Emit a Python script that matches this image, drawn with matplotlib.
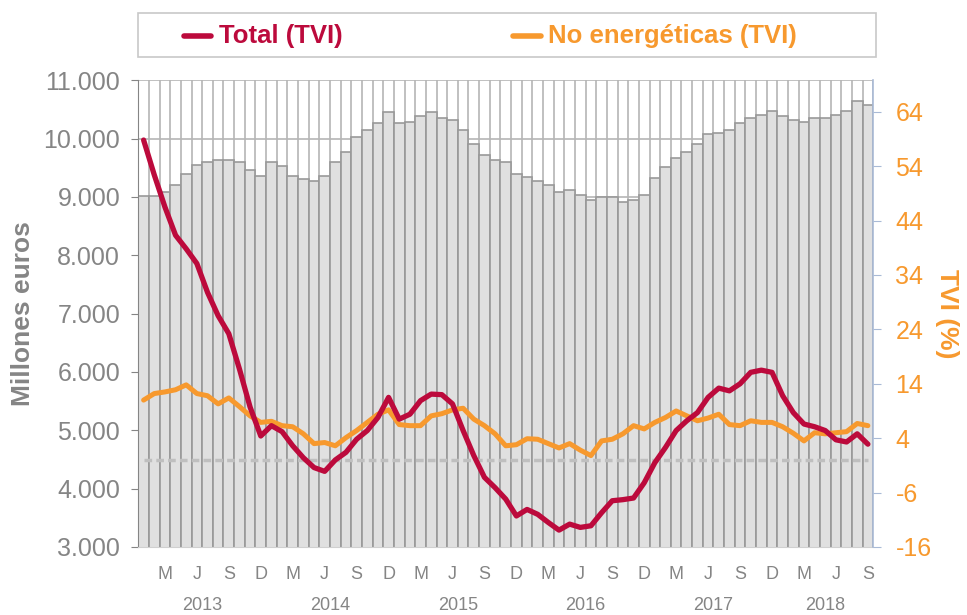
import numpy as np
import matplotlib
matplotlib.use('Agg')
import matplotlib.pyplot as plt
from matplotlib.lines import Line2D
from matplotlib.patches import Rectangle
import matplotlib.transforms as mtransforms

plt.rcParams['font.family'] = ['Liberation Sans', 'DejaVu Sans']

# Monthly data, Jan 2013 - Sep 2018
stock = [9010, 9010, 9080, 9200, 9390, 9555, 9600, 9630, 9630, 9600, 9465, 9360,
         9600, 9530, 9360, 9315, 9270, 9360, 9600, 9767, 10030, 10150, 10270, 10460,
         10270, 10290, 10380, 10460, 10360, 10315, 10145, 9915, 9715, 9630, 9600, 9390,
         9345, 9270, 9200, 9080, 9125, 9035, 8945, 8990, 8990, 8915, 8940, 9035,
         9320, 9510, 9675, 9770, 9910, 10080, 10100, 10150, 10270, 10360, 10410, 10480,
         10390, 10315, 10285, 10360, 10360, 10410, 10480, 10650, 10580]

tvi_total = [58.8, 52.4, 46.5, 41.3, 38.8, 36.1, 30.8, 26.5, 23.2, 16.7, 9.7, 4.4,
             6.3, 5.2, 2.6, 0.4, -1.4, -2.1, 0.0, 1.4, 3.8, 5.4, 7.8, 11.5,
             7.5, 8.4, 10.9, 12.1, 12.0, 10.3, 5.4, 0.8, -3.2, -5.1, -7.2, -10.3,
             -9.1, -10.0, -11.5, -12.9, -11.8, -12.4, -12.1, -9.7, -7.5, -7.3, -7.0, -4.2,
             -0.5, 2.3, 5.4, 7.2, 8.7, 11.5, 13.2, 12.7, 14.0, 16.1, 16.5, 16.1,
             11.8, 8.7, 6.6, 6.1, 5.4, 3.7, 3.3, 4.8, 2.9]

tvi_no_energ = [11.0, 12.2, 12.5, 12.9, 13.8, 12.2, 11.8, 10.3, 11.4, 9.8, 8.1, 6.9,
                7.1, 6.3, 6.1, 4.8, 3.0, 3.2, 2.6, 4.1, 5.4, 6.9, 8.4, 9.2,
                6.5, 6.3, 6.3, 8.1, 8.5, 9.2, 9.5, 7.5, 6.3, 4.8, 2.6, 2.8,
                3.9, 3.8, 3.0, 2.2, 3.0, 1.8, 0.8, 3.5, 3.8, 4.8, 6.3, 5.7,
                6.9, 7.8, 9.0, 8.1, 7.2, 7.7, 8.4, 6.5, 6.3, 7.2, 6.9, 6.9,
                6.1, 4.9, 3.5, 5.0, 4.8, 5.0, 5.2, 6.7, 6.3]

month_letters = ['E', 'F', 'M', 'A', 'M', 'J', 'J', 'A', 'S', 'O', 'N', 'D']
years = ['2013', '2014', '2015', '2016', '2017', '2018']

RED = '#BC0A3C'
ORANGE = '#F7992E'
GREY = '#858585'

n = len(stock)
x = np.arange(n)

fig = plt.figure(figsize=(9.67, 6.15), dpi=100)
ax = fig.add_axes([0.143, 0.1106, 0.760, 0.759])

# Bars (stock, left axis)
ax.bar(x, stock, width=1.0, color='#e0e0e0', edgecolor='#999999',
       linewidth=1.2, zorder=2)
ax.set_xlim(-0.5, n - 0.5)
ax.set_ylim(3000, 11000)
ax.set_yticks(np.arange(3000, 11001, 1000))
ax.set_yticklabels([f'{v:,}'.replace(',', '.') for v in range(3000, 11001, 1000)],
                   fontsize=18, color=GREY)
ax.set_axisbelow(True)
ax.grid(axis='y', color='#b5b5b5', linewidth=1.2)
ax.set_xticks(np.arange(-0.5, n, 1.0), minor=True)
ax.grid(axis='x', which='minor', color='#b5b5b5', linewidth=1.2)

# month letters every quarter
qpos = [i for i in range(n) if i % 12 in (2, 5, 8, 11)]
ax.set_xticks(qpos)
ax.set_xticklabels([month_letters[i % 12] for i in qpos], fontsize=13, color=GREY)
ax.tick_params(axis='x', which='both', length=0, pad=14)
ax.tick_params(axis='y', length=5, color=GREY, pad=8)

for s in ['top', 'right']:
    ax.spines[s].set_visible(False)
ax.spines['left'].set_color(GREY)
ax.spines['bottom'].set_color('#d0d0d0')

# year labels centred under each year's months
trans = mtransforms.blended_transform_factory(ax.transData, ax.transAxes)
for k, yr in enumerate(years):
    idx = [i for i in range(n) if i // 12 == k]
    ax.text(np.mean(idx), -0.125, yr, transform=trans, ha='center', va='center',
            fontsize=13, color=GREY)

ax.set_ylabel('Millones euros', fontsize=19, fontweight='bold', color=GREY, labelpad=6)

# TVI lines (right axis)
ax2 = ax.twinx()
ax2.set_ylim(-16, 69.8)
ax2.hlines(0, x[0], x[-1], colors='#bfbfbf', linestyles=(0, (2.2, 1.2)),
           linewidth=2.5, zorder=1)
ax2.plot(x, tvi_no_energ, color=ORANGE, linewidth=3.6, solid_capstyle='round',
         solid_joinstyle='round', zorder=3)
ax2.plot(x, tvi_total, color=RED, linewidth=3.8, solid_capstyle='round',
         solid_joinstyle='round', zorder=4)
ax2.set_yticks(np.arange(-16, 65, 10))
ax2.set_yticklabels([str(v) for v in range(-16, 65, 10)], fontsize=18, color=ORANGE)
ax2.tick_params(axis='y', length=6, color='#a9bad6', pad=10)
for s in ['top', 'left', 'bottom']:
    ax2.spines[s].set_visible(False)
ax2.spines['right'].set_color('#a9bad6')
ax2.spines['right'].set_linewidth(1.2)
ax2.set_ylabel('TVI (%)', fontsize=19, fontweight='bold', color=ORANGE,
               rotation=-90, labelpad=20)

# Legend box at the top
fig.patches.append(Rectangle((138 / 967, 1 - 57 / 615), (876 - 138) / 967, 44 / 615,
                             transform=fig.transFigure, facecolor='white',
                             edgecolor='#c8c8c8', linewidth=1.2))
ly = 1 - 36 / 615
fig.lines.append(Line2D([184 / 967, 211 / 967], [ly, ly], transform=fig.transFigure,
                        color=RED, linewidth=4, solid_capstyle='round'))
fig.text(219 / 967, ly, 'Total (TVI)', color=RED, fontsize=18.5, fontweight='bold',
         va='center', ha='left')
fig.lines.append(Line2D([513 / 967, 541 / 967], [ly, ly], transform=fig.transFigure,
                        color=ORANGE, linewidth=4, solid_capstyle='round'))
fig.text(548 / 967, ly, 'No energéticas (TVI)', color=ORANGE, fontsize=18.5,
         fontweight='bold', va='center', ha='left')

plt.savefig('out.png', dpi=100, facecolor='white')
